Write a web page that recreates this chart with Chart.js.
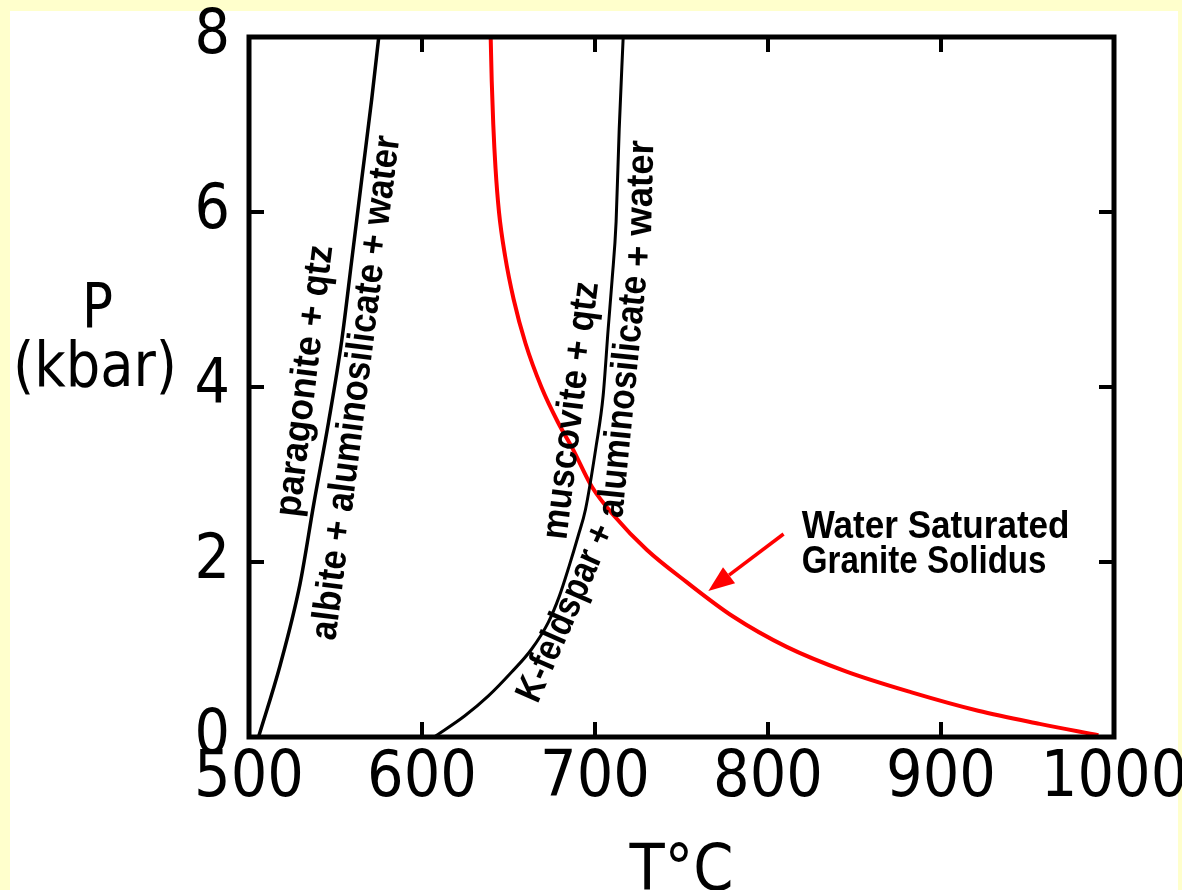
<!DOCTYPE html>
<html>
<head>
<meta charset="utf-8">
<script src="https://cdn.jsdelivr.net/npm/chart.js@4.4.0/dist/chart.umd.min.js"></script>
<style>
  html, body { margin: 0; padding: 0; background: #ffffcc; }
  #wrap { width: 1182px; height: 890px; }
</style>
</head>
<body>
<div id="wrap"><canvas id="chart" width="1182" height="890"></canvas></div>
<script>
// Ticks de los ejes
const xTicks = [500, 600, 700, 800, 900, 1000];
const yTicks = [0, 2, 4, 6, 8];

// paragonite + qtz = albite + aluminosilicate + water
const paraT = [505.5, 518, 529.5, 537.5, 546, 553.6, 559.4, 565.2, 571, 575];
const paraP = [0, 0.82, 1.75, 2.67, 3.6, 4.53, 5.45, 6.38, 7.3, 8];

// muscovite + qtz = K-feldspar + aluminosilicate + water
const muscT = [607, 624.6, 638.4, 651.7, 663.2, 673, 679.4, 685, 690.3, 694.5, 700.7, 704.7, 707.6, 709.9, 712.2, 714, 716.3];
const muscP = [0, 0.24, 0.47, 0.74, 1.0, 1.31, 1.61, 1.95, 2.3, 2.6, 3.33, 3.9, 4.66, 5.23, 5.89, 6.95, 8];

// Water Saturated Granite Solidus
const solT = [639.7, 640.3, 641.2, 642.5, 644.5, 648, 653, 659.8, 669, 678.5, 687.2, 698.2, 711.4, 729.9, 753, 779.6, 810.8, 845, 883, 921.5, 957, 991];
const solP = [8, 7.5, 7, 6.5, 6, 5.5, 5, 4.5, 4, 3.6, 3.29, 2.86, 2.52, 2.14, 1.77, 1.38, 1.03, 0.75, 0.51, 0.30, 0.15, 0.02];

// flecha hacia el solidus [T, P]
const arrowTail = [809, 2.32];
const arrowHead = [765.5, 1.67];

const narrow = "'Liberation Sans Narrow', 'DejaVu Sans Condensed', 'Liberation Sans', sans-serif";
const labelFont = "bold 38px 'Liberation Sans', Arial, sans-serif";

// textos sobre las curvas: texto, inicio [T,P], fin [T,P]
const curveLabels = [
  ['paragonite + qtz', [523.1, 2.52], [542.2, 5.62]],
  ['albite + aluminosilicate + water', [543.9, 1.11], [580.9, 6.87]],
  ['muscovite + qtz', [677.4, 2.26], [695.8, 5.2]],
  ['K-feldspar +', [661.2, 0.42], [705.7, 2.41]],
  ['aluminosilicate', [709.7, 2.51], [723.6, 5.27]],
  ['+ water', [725.9, 5.37], [727.6, 6.82]]
];

const toPoints = (xs, ys) => xs.map((x, i) => ({ x: x, y: ys[i] }));

function fitText(ctx, text, x0, y0, x1, y1, font, baseline) {
  const len = Math.hypot(x1 - x0, y1 - y0);
  const ang = Math.atan2(y1 - y0, x1 - x0);
  ctx.save();
  ctx.font = font;
  ctx.textAlign = 'left';
  ctx.textBaseline = baseline || 'middle';
  const w = ctx.measureText(text).width;
  ctx.translate(x0, y0);
  ctx.rotate(ang);
  ctx.scale(len / w, 1);
  ctx.fillText(text, 0, 0);
  ctx.restore();
}

// Fondo amarillo con recuadro blanco
const backgroundPlugin = {
  id: 'background',
  beforeDraw(chart) {
    const ctx = chart.ctx;
    ctx.save();
    ctx.fillStyle = '#ffffcc';
    ctx.fillRect(0, 0, chart.width, chart.height);
    ctx.fillStyle = '#ffffff';
    ctx.fillRect(10, 11, 1168, chart.height - 11);
    ctx.restore();
  }
};

// Marco y ticks hacia dentro en los cuatro lados
const framePlugin = {
  id: 'frame',
  afterDatasetsDraw(chart) {
    const { ctx, chartArea: a, scales } = chart;
    const tl = 15;
    ctx.save();
    ctx.strokeStyle = '#000';
    ctx.lineWidth = 4;
    ctx.beginPath();
    xTicks.slice(1, -1).forEach(v => {
      const x = scales.x.getPixelForValue(v);
      ctx.moveTo(x, a.bottom); ctx.lineTo(x, a.bottom - tl);
      ctx.moveTo(x, a.top); ctx.lineTo(x, a.top + tl);
    });
    yTicks.slice(1, -1).forEach(v => {
      const y = scales.y.getPixelForValue(v);
      ctx.moveTo(a.left, y); ctx.lineTo(a.left + tl, y);
      ctx.moveTo(a.right, y); ctx.lineTo(a.right - tl, y);
    });
    ctx.stroke();
    ctx.lineWidth = 5;
    ctx.strokeRect(a.left, a.top, a.right - a.left, a.bottom - a.top);
    ctx.restore();
  }
};

// Etiquetas, flecha y título del eje Y
const annotationPlugin = {
  id: 'annotations',
  afterDraw(chart) {
    const { ctx, scales } = chart;
    const px = (t, p) => [scales.x.getPixelForValue(t), scales.y.getPixelForValue(p)];
    ctx.save();
    ctx.fillStyle = '#000';
    curveLabels.forEach(([txt, s, e]) => {
      const [x0, y0] = px(s[0], s[1]);
      const [x1, y1] = px(e[0], e[1]);
      fitText(ctx, txt, x0, y0, x1, y1, labelFont);
    });

    // Water Saturated / Granite Solidus
    const [wx0, wy0] = px(819.5, 2.28);
    const [wx1] = px(974.3, 2.28);
    fitText(ctx, 'Water Saturated', wx0, wy0, wx1, wy0, "bold 39px 'Liberation Sans', Arial, sans-serif", 'alphabetic');
    const [gx0, gy0] = px(819.5, 1.88);
    const [gx1] = px(961, 1.88);
    fitText(ctx, 'Granite Solidus', gx0, gy0, gx1, gy0, "bold 39px 'Liberation Sans', Arial, sans-serif", 'alphabetic');

    // flecha roja
    const [tx, ty] = px(arrowTail[0], arrowTail[1]);
    const [hx, hy] = px(arrowHead[0], arrowHead[1]);
    const ang = Math.atan2(hy - ty, hx - tx);
    const hl = 26, hw = 10;
    const bx = hx - hl * Math.cos(ang), by = hy - hl * Math.sin(ang);
    ctx.strokeStyle = '#ff0000';
    ctx.fillStyle = '#ff0000';
    ctx.lineWidth = 3.5;
    ctx.beginPath();
    ctx.moveTo(tx, ty);
    ctx.lineTo(bx, by);
    ctx.stroke();
    ctx.beginPath();
    ctx.moveTo(hx, hy);
    ctx.lineTo(bx + hw * Math.sin(ang), by - hw * Math.cos(ang));
    ctx.lineTo(bx - hw * Math.sin(ang), by + hw * Math.cos(ang));
    ctx.closePath();
    ctx.fill();

    // P (kbar)
    ctx.fillStyle = '#000';
    fitText(ctx, 'P', 82, 327, 113, 327, '62px ' + narrow, 'alphabetic');
    fitText(ctx, '(kbar)', 13, 386, 177, 386, '62px ' + narrow, 'alphabetic');
    ctx.restore();
  }
};

const ctx = document.getElementById('chart').getContext('2d');
new Chart(ctx, {
  type: 'scatter',
  data: {
    datasets: [
      {
        label: 'paragonite + qtz',
        data: toPoints(paraT, paraP),
        showLine: true, borderColor: '#000', borderWidth: 3.5,
        pointRadius: 0, cubicInterpolationMode: 'monotone', fill: false
      },
      {
        label: 'muscovite + qtz',
        data: toPoints(muscT, muscP),
        showLine: true, borderColor: '#000', borderWidth: 3,
        pointRadius: 0, cubicInterpolationMode: 'monotone', fill: false
      },
      {
        label: 'Water Saturated Granite Solidus',
        data: toPoints(solT, solP),
        showLine: true, borderColor: '#ff0000', borderWidth: 4,
        pointRadius: 0, cubicInterpolationMode: 'monotone', fill: false
      }
    ]
  },
  options: {
    responsive: false,
    animation: false,
    devicePixelRatio: 1,
    layout: { padding: { top: 37, right: 68, left: 0, bottom: 0 } },
    plugins: {
      legend: { display: false },
      tooltip: { enabled: false }
    },
    scales: {
      x: {
        type: 'linear',
        min: 500, max: 1000,
        afterBuildTicks: (s) => { s.ticks = xTicks.map(v => ({ value: v })); },
        afterFit: (s) => { s.height = 153; s.paddingLeft = 0; s.paddingRight = 0; },
        grid: { display: false, drawTicks: false },
        border: { display: false },
        ticks: {
          color: '#000', padding: 4, maxRotation: 0, autoSkip: false,
          callback: (v) => String(v),
          font: { family: narrow, size: 64 }
        },
        title: {
          display: true, text: 'T°C', color: '#000',
          font: { family: narrow, size: 64 },
          padding: { top: 0, bottom: -22 }
        }
      },
      y: {
        type: 'linear',
        min: 0, max: 8,
        afterBuildTicks: (s) => { s.ticks = yTicks.map(v => ({ value: v })); },
        afterFit: (s) => { s.width = 249; s.paddingTop = 0; s.paddingBottom = 0; },
        grid: { display: false, drawTicks: false },
        border: { display: false },
        ticks: {
          color: '#000', padding: 19, autoSkip: false,
          callback: (v) => String(v),
          font: { family: narrow, size: 62 }
        }
      }
    }
  },
  plugins: [backgroundPlugin, framePlugin, annotationPlugin]
});
</script>
</body>
</html>
